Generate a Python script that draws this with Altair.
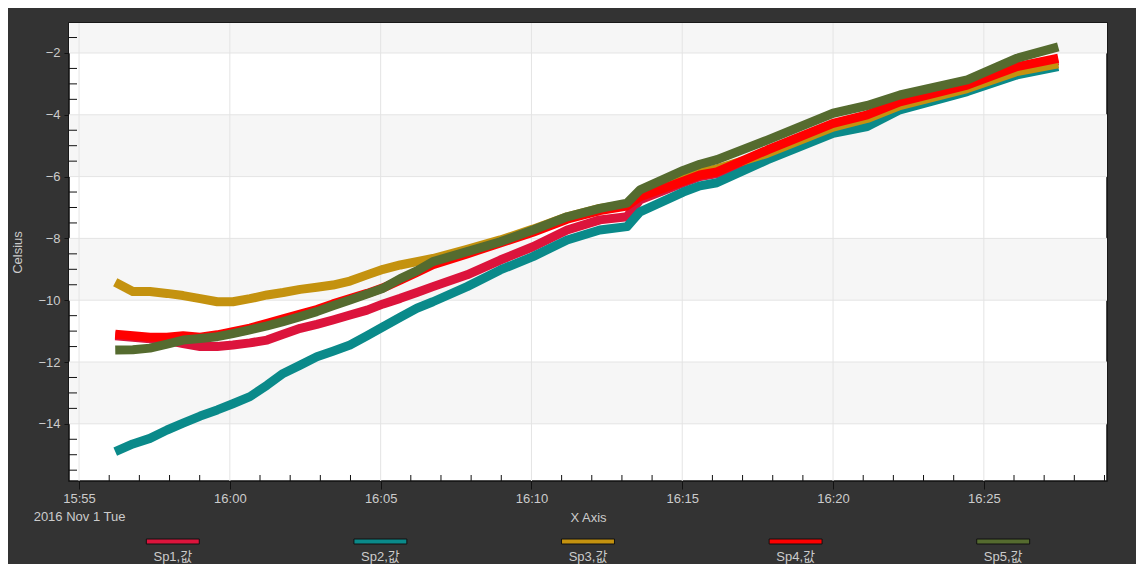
import altair as alt
import pandas as pd
import numpy as np

DAY = "2016-11-01"
times = ["15:56:12", "15:56:47", "15:57:21", "15:57:55", "15:58:27", "15:59:01", "15:59:35",
         "16:00:06", "16:00:40", "16:01:14", "16:01:46", "16:02:20", "16:02:53", "16:03:25",
         "16:03:59", "16:04:33", "16:05:05", "16:05:39", "16:06:12", "16:06:44", "16:07:52",
         "16:08:58", "16:10:03", "16:11:11", "16:12:16", "16:13:10", "16:13:36", "16:15:02",
         "16:15:35", "16:16:09", "16:17:49", "16:20:00", "16:21:08", "16:22:13", "16:24:27",
         "16:26:06", "16:27:28"]

sp1 = [-11.15, -11.2, -11.25, -11.3, -11.4, -11.5, -11.5, -11.45, -11.38, -11.29, -11.1, -10.91,
       -10.78, -10.64, -10.48, -10.32, -10.12, -9.94, -9.75, -9.56, -9.18, -8.70, -8.27, -7.73,
       -7.40, -7.30, -6.75, -6.2, -6.0, -5.9, -5.2, -4.35, -4.05, -3.65, -3.1, -2.5, -2.25]
sp2 = [-14.9, -14.65, -14.47, -14.2, -13.98, -13.75, -13.55, -13.35, -13.12, -12.75, -12.37, -12.1,
       -11.83, -11.65, -11.45, -11.15, -10.86, -10.55, -10.26, -10.05, -9.56, -9.02, -8.59, -8.05,
       -7.73, -7.62, -7.14, -6.5, -6.3, -6.2, -5.46, -4.60, -4.38, -3.84, -3.25, -2.71, -2.44]
sp3 = [-9.42, -9.72, -9.72, -9.78, -9.85, -9.95, -10.05, -10.05, -9.95, -9.83, -9.75, -9.65,
       -9.58, -9.51, -9.38, -9.18, -9.0, -8.86, -8.75, -8.65, -8.35, -8.05, -7.70, -7.30,
       -7.03, -6.9, -6.5, -6.0, -5.85, -5.75, -5.25, -4.4, -4.12, -3.7, -3.15, -2.6, -2.35]
sp4 = [-11.1, -11.15, -11.2, -11.2, -11.15, -11.2, -11.12, -11.02, -10.9, -10.75, -10.6, -10.45,
       -10.3, -10.12, -9.95, -9.78, -9.6, -9.35, -9.1, -8.85, -8.5, -8.15, -7.8, -7.38,
       -7.1, -6.95, -6.65, -6.15, -5.95, -5.85, -5.14, -4.28, -4.0, -3.58, -3.04, -2.44, -2.17]
sp5 = [-11.61, -11.6, -11.55, -11.42, -11.29, -11.24, -11.18, -11.08, -10.96, -10.83, -10.69, -10.53,
       -10.37, -10.18, -9.99, -9.80, -9.61, -9.3, -9.05, -8.75, -8.43, -8.11, -7.73, -7.30,
       -7.03, -6.86, -6.43, -5.8, -5.6, -5.45, -4.82, -3.95, -3.70, -3.36, -2.87, -2.17, -1.80]

names = ["Sp1,값", "Sp2,값", "Sp3,값", "Sp4,값", "Sp5,값"]
colors = ["#dc143c", "#0a8a8a", "#c4920f", "#ff0000", "#556b2f"]
series_values = [sp1, sp2, sp3, sp4, sp5]

major_times = ["15:55", "16:00", "16:05", "16:10", "16:15", "16:20", "16:25"]
y_major = [-14, -12, -10, -8, -6, -4, -2]
band_lo = [-2, -6, -10, -14]
band_hi = [-1.03, -4, -8, -12]
date_line = "2016 Nov 1 Tue"

W, H = 1038, 458
FONT = "Liberation Sans, Noto Sans CJK KR"
TXT = "#cccccc"


def dt(hm, s=0):
    h, m = hm.split(":")[:2]
    return alt.DateTime(year=2016, month=11, date=1, hours=int(h), minutes=int(m), seconds=s)


xscale = alt.Scale(domain=[dt("15:54", 40), dt("16:29", 5)])
yscale = alt.Scale(domain=[-15.85, -1.03], nice=False, zero=False)

x_axis = alt.Axis(
    values=[dt(t) for t in major_times], format="%H:%M",
    labelExpr=f"datum.label == '15:55' ? ['15:55', '{date_line}'] : datum.label",
    labelLineHeight=18, tickSize=8, tickColor="#111111", labelPadding=3,
    labelColor=TXT, labelFontSize=13, labelFont=FONT, labelFlush=False, labelOverlap=False,
    title="X Axis", titleColor=TXT, titleFontSize=13, titleFont=FONT, titleFontWeight="normal",
    titleY=30, titleBaseline="top", grid=False, domain=False,
)
y_axis = alt.Axis(
    values=y_major, format="d", tickSize=5, tickColor="#111111", labelPadding=4,
    labelColor=TXT, labelFontSize=13, labelFont=FONT,
    title="Celsius", titleColor=TXT, titleFontSize=13, titleFont=FONT, titleFontWeight="normal",
    titleX=-52, titleY=H / 2, titleAngle=270, titleAlign="center", titleBaseline="middle",
    grid=False, domain=False,
)

X = lambda f: alt.X(f, type="temporal", scale=xscale, axis=x_axis)
Y = lambda f: alt.Y(f, type="quantitative", scale=yscale, axis=y_axis)

bands = alt.Chart(pd.DataFrame({"lo": band_lo, "hi": band_hi})).mark_rect(color="#f6f6f6").encode(
    y=Y("lo"), y2="hi")

grid_x = alt.Chart(pd.DataFrame({"t": [f"{DAY}T{t}:00" for t in major_times]})).mark_rule(
    color="#e4e4e4", strokeWidth=1).encode(x=X("t"))
grid_y = alt.Chart(pd.DataFrame({"v": y_major})).mark_rule(
    color="#e4e4e4", strokeWidth=1).encode(y=Y("v"))

line_layers = []
for name, col, vals in zip(names, colors, series_values):
    df = pd.DataFrame({"t": [f"{DAY}T{t}" for t in times], "v": vals})
    line_layers.append(
        alt.Chart(df).mark_line(strokeWidth=9, strokeJoin="round", color=col).encode(
            x=X("t"), y=Y("v")))

minor_min = [t for t in pd.date_range(f"{DAY} 15:55", f"{DAY} 16:29", freq="1min") if t.minute % 5 != 0]
xminor = alt.Chart(pd.DataFrame({"t": [t.strftime("%Y-%m-%dT%H:%M:%S") for t in minor_min]})).mark_rule(
    color="#111111", strokeWidth=1).encode(x=X("t"), y=alt.value(H), y2=alt.value(H - 6))
yminor_vals = [float(v) for v in np.arange(-15.5, -1.0, 0.5) if v % 2 != 0]
yminor = alt.Chart(pd.DataFrame({"v": yminor_vals})).mark_rule(
    color="#111111", strokeWidth=1).encode(y=Y("v"), x=alt.value(0), x2=alt.value(8))

main = alt.layer(bands, grid_x, grid_y, *line_layers, xminor, yminor)

leg_df = pd.DataFrame({"series": names})
leg_scale = alt.Scale(domain=names, paddingInner=0.745, paddingOuter=0.3725)
swatch = alt.Chart(leg_df).mark_bar(stroke="#111111", strokeWidth=1).encode(
    x=alt.X("series:N", scale=leg_scale, axis=None),
    y=alt.value(516), y2=alt.value(521),
    color=alt.Color("series:N", scale=alt.Scale(domain=names, range=colors), legend=None),
)
leg_text = alt.Chart(leg_df).mark_text(color=TXT, fontSize=13, font=FONT, baseline="middle").encode(
    x=alt.X("series:N", scale=leg_scale, axis=None),
    y=alt.value(534),
    text="series:N",
)
legend = alt.layer(swatch, leg_text)

chart = alt.layer(main, legend).resolve_scale(x="independent").properties(
    width=W, height=H,
    autosize=alt.AutoSizeParams(type="none"),
    padding={"left": 61, "top": 15, "right": 29, "bottom": 83},
    background="#333333",
).configure_view(fill="white", stroke="#111111", strokeWidth=1.5)

chart.save("out.html", embed_options={"renderer": "svg", "actions": False})
